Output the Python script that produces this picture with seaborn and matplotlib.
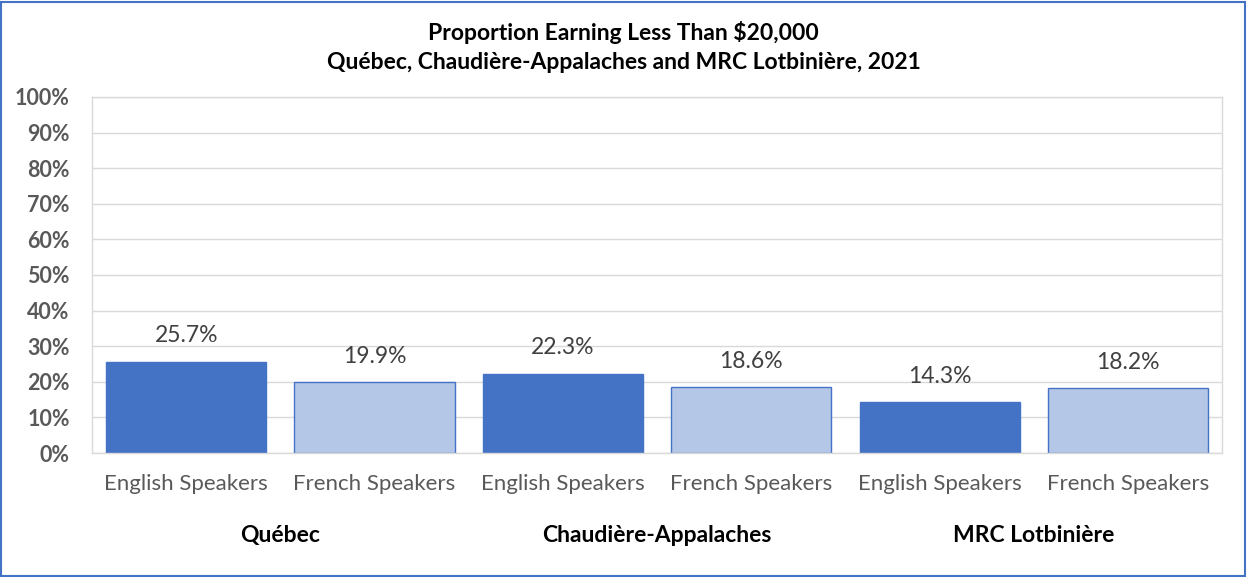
import matplotlib
matplotlib.use("Agg")
import matplotlib.pyplot as plt
import pandas as pd
import seaborn as sns
from matplotlib.patches import Rectangle
from matplotlib.ticker import MultipleLocator, PercentFormatter

ENGLISH_COLOR = "#4472C4"
FRENCH_COLOR = "#B4C7E7"
GRID_COLOR = "#D9D9D9"
TICK_COLOR = "#595959"

regions = ["Québec", "Chaudière-Appalaches", "MRC Lotbinière"]
speakers = ["English Speakers", "French Speakers"]
english_values = [25.7, 22.3, 14.3]
french_values = [19.9, 18.6, 18.2]

rows = []
for i, region in enumerate(regions):
    rows.append({"Region": region, "Speakers": speakers[0], "Value": english_values[i]})
    rows.append({"Region": region, "Speakers": speakers[1], "Value": french_values[i]})
df = pd.DataFrame(rows)
df["Slot"] = df["Region"] + " | " + df["Speakers"]

sns.set_theme(style="white")
plt.rcParams["font.family"] = ["Lato", "DejaVu Sans"]

fig = plt.figure(figsize=(12.47, 5.77), dpi=100)
ax = fig.add_axes([0.0738, 0.2149, 0.9062, 0.617])

sns.barplot(
    data=df,
    x="Slot",
    y="Value",
    hue="Speakers",
    palette={speakers[0]: ENGLISH_COLOR, speakers[1]: FRENCH_COLOR},
    dodge=False,
    width=0.85,
    saturation=1,
    edgecolor=ENGLISH_COLOR,
    linewidth=1,
    legend=False,
    ax=ax,
)

for container in ax.containers:
    ax.bar_label(container, fmt="%.1f%%", padding=11, fontsize=16.5, color="#404040")

ax.set_ylim(0, 100)
ax.yaxis.set_major_locator(MultipleLocator(10))
ax.yaxis.set_major_formatter(PercentFormatter(decimals=0))
ax.grid(axis="y", color=GRID_COLOR, linewidth=1)
ax.set_axisbelow(True)
for side in ["left", "right", "top", "bottom"]:
    ax.spines[side].set_color(GRID_COLOR)
    ax.spines[side].set_linewidth(1)

ax.set_xlabel("")
ax.set_ylabel("")
ax.set_xticks(range(len(df)))
ax.set_xticklabels(df["Speakers"], fontsize=16, color=TICK_COLOR)
ax.tick_params(axis="x", length=0, pad=15)
ax.tick_params(axis="y", length=0, pad=16, labelsize=15.5, labelcolor=TICK_COLOR)
for lbl in ax.get_yticklabels():
    lbl.set_fontweight("bold")

for i, region in enumerate(regions):
    ax.text(
        2 * i + 0.5, -0.232, region,
        transform=ax.get_xaxis_transform(),
        ha="center", va="center", fontsize=16.5, fontweight="bold", color="black",
    )

fig.text(
    0.5, 0.918,
    "Proportion Earning Less Than $20,000\nQuébec, Chaudière-Appalaches and MRC Lotbinière, 2021",
    ha="center", va="center", fontsize=16.5, fontweight="bold", color="black",
    linespacing=1.45,
)

fig.patches.append(
    Rectangle((0.001, 0.002), 0.997, 0.995, transform=fig.transFigure,
              fill=False, edgecolor="#4472C4", linewidth=1.5)
)

fig.savefig("out.png", dpi=100, facecolor="white")
